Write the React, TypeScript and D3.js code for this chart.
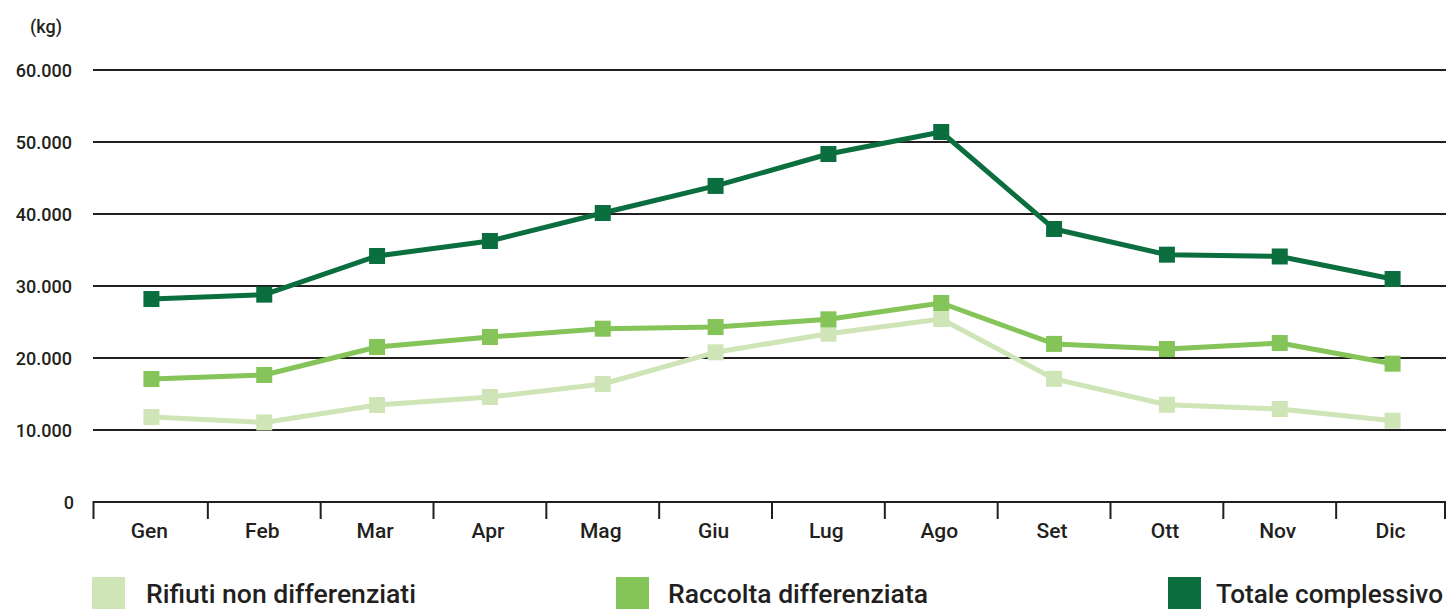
import React from "react";
import * as d3 from "d3";

const months = ["Gen", "Feb", "Mar", "Apr", "Mag", "Giu", "Lug", "Ago", "Set", "Ott", "Nov", "Dic"];
const rifiuti = [11800, 11050, 13470, 14580, 16390, 20790, 23380, 25420, 17100, 13510, 12920, 11290];
const raccolta = [17080, 17640, 21530, 22920, 24070, 24300, 25370, 27640, 21960, 21250, 22080, 19210];
const totale = [28190, 28800, 34170, 36250, 40140, 43900, 48330, 51390, 37920, 34350, 34100, 30970];
const yTicks = [0, 10000, 20000, 30000, 40000, 50000, 60000];
const seriesNames = ["Rifiuti non differenziati", "Raccolta differenziata", "Totale complessivo"];
const seriesColors = ["#cfe5b8", "#84c458", "#0b6e3f"];

const W = 1446;
const H = 609;
const FONT = "Roboto, 'DejaVu Sans', sans-serif";

export default function App() {
  const x = d3.scaleBand<string>().domain(months).range([95, 1449]);
  const y = d3.scaleLinear().domain([0, 60000]).range([502, 70]);
  const fmt = (v: number) => (v === 0 ? "0" : d3.format(",")(v).replace(/,/g, "."));
  const cx = (m: string) => (x(m) as number) + x.bandwidth() / 2;
  const line = d3
    .line<number>()
    .x((_, i) => cx(months[i]))
    .y((d) => y(d));
  const series = [rifiuti, raccolta, totale];
  const legendX = [92, 616, 1168];
  const legendTextX = [146, 668, 1216];
  const legendTextLen = [270, 260, 227];
  const ms = 16;

  return (
    <svg
      width={W}
      height={H}
      style={{ position: "fixed", left: 0, top: 0, background: "#fff" }}
      fontFamily={FONT}
    >
      <text x={30} y={33} fontSize={18} fontWeight={500} fill="#231f20">
        (kg)
      </text>
      {yTicks.map((t) => (
        <g key={t}>
          {t > 0 && (
            <line x1={93} x2={1446} y1={y(t)} y2={y(t)} stroke="#231f20" strokeWidth={2} />
          )}
          <text
            x={t === 0 ? 74 : 72}
            y={y(t) + 6.5}
            textAnchor="end"
            fontSize={18}
            fontWeight={500}
            fill="#231f20"
          >
            {fmt(t)}
          </text>
        </g>
      ))}
      <line x1={93} x2={1446} y1={502} y2={502} stroke="#231f20" strokeWidth={2} />
      {months.map((m, i) => (
        <g key={m}>
          <line
            x1={(x(m) as number) - (i === 0 ? 1.5 : 0)}
            x2={(x(m) as number) - (i === 0 ? 1.5 : 0)}
            y1={501}
            y2={519}
            stroke="#231f20"
            strokeWidth={2}
          />
          <text x={cx(m) - 2} y={538} textAnchor="middle" fontSize={21} fontWeight={500} fill="#231f20">
            {m}
          </text>
        </g>
      ))}
      <line x1={1445} x2={1445} y1={501} y2={519} stroke="#231f20" strokeWidth={2} />
      {series.map((s, k) => (
        <g key={k}>
          <path d={line(s) || ""} fill="none" stroke={seriesColors[k]} strokeWidth={5} strokeLinejoin="round" />
          {s.map((v, i) => (
            <rect
              key={i}
              x={cx(months[i]) - ms / 2}
              y={y(v) - ms / 2}
              width={ms}
              height={ms}
              fill={seriesColors[k]}
            />
          ))}
        </g>
      ))}
      {seriesNames.map((n, k) => (
        <g key={n}>
          <rect x={legendX[k]} y={577} width={33} height={33} fill={seriesColors[k]} />
          <text
            x={legendTextX[k]}
            y={603}
            fontSize={25}
            fontWeight={500}
            fill="#231f20"
            textLength={legendTextLen[k]}
            lengthAdjust="spacingAndGlyphs"
          >
            {n}
          </text>
        </g>
      ))}
    </svg>
  );
}
